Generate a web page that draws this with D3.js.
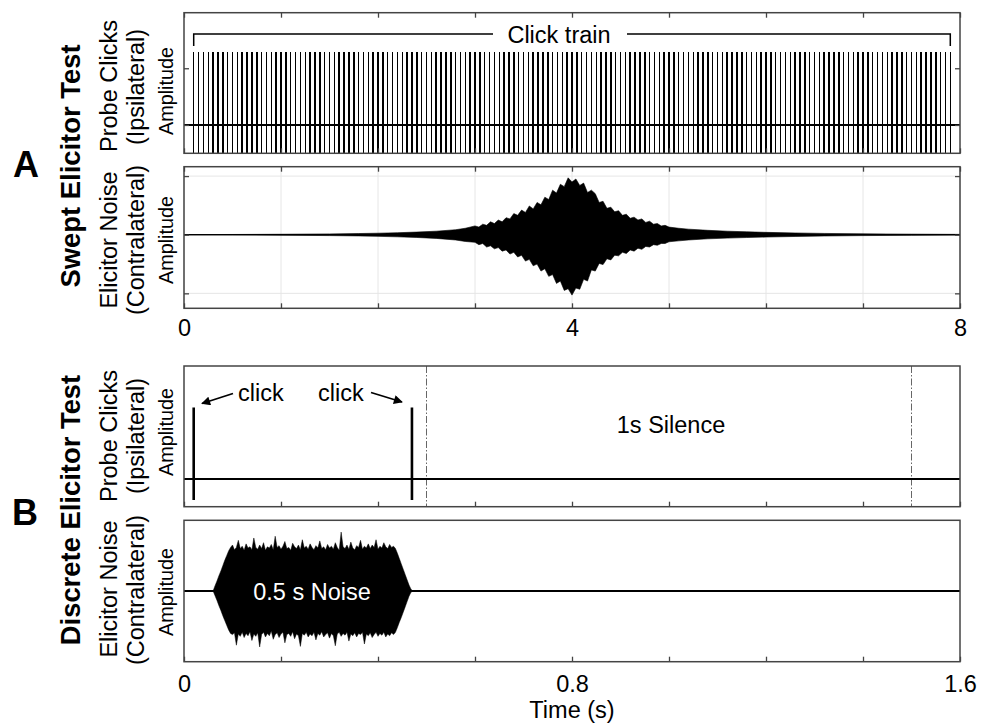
<!DOCTYPE html>
<html><head><meta charset="utf-8">
<script src="https://cdn.jsdelivr.net/npm/d3@7"></script>
<style>
body{margin:0;background:#fff}
svg{display:block}
text{font-family:"Liberation Sans",Arial,Helvetica,sans-serif;fill:#000}
</style>
</head><body>
<svg id="chart" width="984" height="724"></svg>
<script>
// ---------- DATA ----------
const sweptXTicks = [0,1,2,3,4,5,6,7,8];
const sweptXLabels = [0,4,8];
const discreteXTicks = [0,0.2,0.4,0.6,0.8,1.0,1.2,1.4,1.6];
const discreteXLabels = [0,0.8,1.6];

// Panel A: probe click train (ipsilateral)
const clickTimes = [
0.1,0.15,0.2,0.25,0.3,0.35,0.4,0.45,0.5,0.55,0.6,0.65,0.7,0.75,0.8,0.85,0.9,0.95,
1,1.05,1.1,1.15,1.2,1.25,1.3,1.35,1.4,1.45,1.5,1.55,1.6,1.65,1.7,1.75,1.8,1.85,1.9,1.95,
2,2.05,2.1,2.15,2.2,2.25,2.3,2.35,2.4,2.45,2.5,2.55,2.6,2.65,2.7,2.75,2.8,2.85,2.9,2.95,
3,3.05,3.1,3.15,3.2,3.25,3.3,3.35,3.4,3.45,3.5,3.55,3.6,3.65,3.7,3.75,3.8,3.85,3.9,3.95,
4,4.05,4.1,4.15,4.2,4.25,4.3,4.35,4.4,4.45,4.5,4.55,4.6,4.65,4.7,4.75,4.8,4.85,4.9,4.95,
5,5.05,5.1,5.15,5.2,5.25,5.3,5.35,5.4,5.45,5.5,5.55,5.6,5.65,5.7,5.75,5.8,5.85,5.9,5.95,
6,6.05,6.1,6.15,6.2,6.25,6.3,6.35,6.4,6.45,6.5,6.55,6.6,6.65,6.7,6.75,6.8,6.85,6.9,6.95,
7,7.05,7.1,7.15,7.2,7.25,7.3,7.35,7.4,7.45,7.5,7.55,7.6,7.65,7.7,7.75,7.8,7.85,7.9];
const clickPeak = 1.29;
const clickTrough = -1.3;

// Panel A: swept elicitor noise envelope (contralateral)
const sweptNoiseT = [0,0.5,1,1.5,1.8,2,2.2,2.4,2.6,2.8,2.9,
3,3.04,3.08,3.12,3.16,3.2,3.24,3.28,3.32,3.36,3.4,3.44,3.48,3.52,3.56,3.6,3.64,3.68,3.72,3.76,
3.8,3.84,3.88,3.92,3.96,4,4.04,4.08,4.12,4.16,4.2,4.24,4.28,4.32,4.36,4.4,4.44,4.48,4.52,4.56,
4.6,4.64,4.68,4.72,4.76,4.8,4.84,4.88,4.92,4.96,5,
5.1,5.2,5.4,5.6,5.8,6,6.3,6.6,7,7.5,8];
const sweptNoiseUp = [0.002,0.004,0.008,0.014,0.02,0.026,0.034,0.045,0.06,0.085,0.11,
0.15,0.13,0.18,0.16,0.22,0.19,0.25,0.22,0.29,0.27,0.36,0.33,0.42,0.38,0.49,0.44,0.55,0.51,0.64,0.60,
0.76,0.71,0.86,0.82,0.97,0.90,0.95,0.84,0.88,0.72,0.76,0.70,0.55,0.57,0.45,0.47,0.39,0.41,0.33,0.35,
0.28,0.30,0.25,0.27,0.21,0.23,0.18,0.19,0.15,0.16,0.13,
0.11,0.095,0.075,0.06,0.05,0.04,0.03,0.022,0.015,0.01,0.006];
const sweptNoiseLo = [0.002,0.004,0.008,0.015,0.021,0.028,0.036,0.047,0.063,0.09,0.115,
0.13,0.17,0.15,0.21,0.19,0.24,0.22,0.28,0.26,0.33,0.30,0.38,0.35,0.45,0.42,0.53,0.50,0.62,0.58,0.71,
0.68,0.83,0.79,0.95,0.92,1.03,0.91,0.93,0.76,0.79,0.60,0.62,0.49,0.51,0.41,0.43,0.35,0.36,0.30,0.32,
0.26,0.28,0.23,0.25,0.20,0.21,0.17,0.18,0.15,0.15,0.12,
0.105,0.09,0.07,0.058,0.048,0.04,0.03,0.022,0.015,0.01,0.006];

// Panel B: discrete clicks and silence markers
const discreteClickTimes = [0.02,0.47];
const discreteClickPeak = 1.02;
const discreteClickTrough = -0.3;
const silenceMarks = [0.5,1.5];

// Panel B: discrete 0.5 s elicitor noise envelope
const discreteNoiseT = [
0.060,0.064,0.068,0.072,0.076,0.080,0.084,0.088,0.092,0.096,
0.100,0.104,0.108,0.112,0.116,0.120,0.124,0.128,0.132,0.136,
0.140,0.144,0.148,0.152,0.156,0.160,0.164,0.168,0.172,0.176,
0.180,0.184,0.188,0.192,0.196,0.200,0.204,0.208,0.212,0.216,
0.220,0.224,0.228,0.232,0.236,0.240,0.244,0.248,0.252,0.256,
0.260,0.264,0.268,0.272,0.276,0.280,0.284,0.288,0.292,0.296,
0.300,0.304,0.308,0.312,0.316,0.320,0.324,0.328,0.332,0.336,
0.340,0.344,0.348,0.352,0.356,0.360,0.364,0.368,0.372,0.376,
0.380,0.384,0.388,0.392,0.396,0.400,0.404,0.408,0.412,0.416,
0.420,0.424,0.428,0.432,0.436,0.440,0.444,0.448,0.452,0.456,
0.460,0.464,0.468,0.472];
const discreteNoiseUp = [
0,0.09,0.17,0.26,0.34,0.43,0.52,0.60,0.68,0.74,
0.78,0.70,0.74,0.86,0.72,0.76,0.69,0.80,0.73,0.75,
0.70,0.90,0.74,0.71,0.78,0.72,0.82,0.69,0.75,0.73,
0.79,0.70,0.93,0.74,0.77,0.71,0.76,0.84,0.72,0.74,
0.69,0.81,0.75,0.72,0.78,0.70,0.87,0.73,0.76,0.71,
0.80,0.74,0.70,0.77,0.73,0.85,0.72,0.75,0.70,0.79,
0.73,0.76,0.71,0.82,0.74,0.69,1.00,0.75,0.72,0.78,
0.71,0.83,0.73,0.70,0.77,0.74,0.86,0.71,0.76,0.73,
0.80,0.72,0.78,0.74,0.87,0.71,0.76,0.73,0.82,0.75,
0.72,0.79,0.74,0.76,0.72,0.64,0.55,0.46,0.37,0.28,
0.19,0.10,0.03,0];
const discreteNoiseLo = [
0,0.08,0.16,0.25,0.33,0.42,0.50,0.58,0.66,0.72,
0.74,0.71,0.92,0.73,0.77,0.70,0.79,0.72,0.76,0.69,
0.84,0.73,0.77,0.71,0.95,0.74,0.70,0.78,0.72,0.76,
0.68,0.82,0.74,0.71,0.79,0.73,0.70,0.88,0.74,0.72,
0.77,0.69,0.81,0.73,0.76,0.94,0.72,0.75,0.70,0.78,
0.73,0.76,0.70,0.83,0.72,0.75,0.69,0.78,0.74,0.71,
0.80,0.72,0.76,0.93,0.73,0.70,0.77,0.72,0.75,0.70,
0.85,0.73,0.76,0.71,0.78,0.72,0.74,0.70,0.90,0.73,
0.76,0.71,0.79,0.74,0.70,0.77,0.72,0.75,0.70,0.78,
0.73,0.76,0.71,0.74,0.70,0.62,0.53,0.45,0.36,0.27,
0.18,0.09,0.02,0];

// ---------- LAYOUT ----------
const svg = d3.select("#chart");
const L = 184, R = 960;
const AX = "#444";
const FS = 23.5;

const panels = {
  p1: {top: 12.7, bottom: 153.3, xd: [0,8],   yd: [-0.5,1.98],  yt: [0,1]},
  p2: {top: 166.7, bottom: 308.3, xd: [0,8],  yd: [-1.255,1.16], yt: [-1,0,1]},
  p3: {top: 366, bottom: 506.7, xd: [0,1.6],  yd: [-0.396,1.614], yt: []},
  p4: {top: 520.3, bottom: 661.7, xd: [0,1.6], yd: [-1.2,1.2],   yt: []}
};
for (const k in panels) {
  const p = panels[k];
  p.x = d3.scaleLinear().domain(p.xd).range([L, R]);
  p.y = d3.scaleLinear().domain(p.yd).range([p.bottom, p.top]);
}

const defs = svg.append("defs");
for (const k in panels) {
  const p = panels[k];
  defs.append("clipPath").attr("id", "clip-" + k)
    .append("rect").attr("x", L).attr("y", p.top).attr("width", R - L).attr("height", p.bottom - p.top);
}
defs.append("marker").attr("id","arrow").attr("viewBox","0 0 10 10").attr("refX",9).attr("refY",5)
  .attr("markerWidth",11).attr("markerHeight",9).attr("markerUnits","userSpaceOnUse").attr("orient","auto")
  .append("path").attr("d","M0,0 L10,5 L0,10 z").attr("fill","#000");

function frame(p, opts) {
  const g = svg.append("g");
  if (opts.grid) {
    g.selectAll(".gx").data(opts.xticks).join("line")
      .attr("x1", d => p.x(d)).attr("x2", d => p.x(d))
      .attr("y1", p.top).attr("y2", p.bottom)
      .attr("stroke", "#e6e6e6").attr("stroke-width", 1);
    g.selectAll(".gy").data(p.yt).join("line")
      .attr("x1", L).attr("x2", R)
      .attr("y1", d => p.y(d)).attr("y2", d => p.y(d))
      .attr("stroke", "#e6e6e6").attr("stroke-width", 1);
  }
  return g;
}

function axes(p, opts) {
  const g = svg.append("g");
  const fmt = d => opts.labels.includes(d) ? d3.format("~g")(d) : "";
  g.append("g").attr("transform", `translate(0,${p.bottom})`)
    .call(d3.axisBottom(p.x).tickValues(opts.xticks).tickSizeInner(-5).tickSizeOuter(0)
      .tickPadding(opts.pad || 0).tickFormat(opts.labels.length ? fmt : ""));
  if (opts.topTicks) {
    g.append("g").attr("transform", `translate(0,${p.top})`)
      .call(d3.axisTop(p.x).tickValues(opts.xticks).tickSizeInner(-5).tickSizeOuter(0).tickFormat(""));
  }
  if (p.yt.length) {
    g.append("g").attr("transform", `translate(${L},0)`)
      .call(d3.axisLeft(p.y).tickValues(p.yt).tickSizeInner(-5).tickSizeOuter(0).tickFormat(""));
    g.append("g").attr("transform", `translate(${R},0)`)
      .call(d3.axisRight(p.y).tickValues(p.yt).tickSizeInner(-5).tickSizeOuter(0).tickFormat(""));
  }
  g.selectAll(".domain").remove();
  g.selectAll(".tick line").attr("stroke", AX).attr("stroke-width", 1.3);
  g.selectAll(".tick text").attr("font-size", FS).attr("fill", "#000")
    .attr("font-family", '"Liberation Sans",Arial,Helvetica,sans-serif');
  g.append("rect").attr("x", L).attr("y", p.top).attr("width", R - L).attr("height", p.bottom - p.top)
    .attr("fill", "none").attr("stroke", AX).attr("stroke-width", 1.5);
}

// ---------- PANEL 1: click train ----------
{
  const p = panels.p1;
  frame(p, {xticks: sweptXTicks});
  const g = svg.append("g").attr("clip-path", "url(#clip-p1)");
  g.selectAll("line.click").data(clickTimes).join("line")
    .attr("x1", d => p.x(d)).attr("x2", d => p.x(d))
    .attr("y1", p.y(clickPeak)).attr("y2", p.y(clickTrough))
    .attr("stroke", "#000").attr("stroke-width", 1.5).attr("shape-rendering", "crispEdges");
  g.append("line").attr("x1", L).attr("x2", R).attr("y1", p.y(0)).attr("y2", p.y(0))
    .attr("stroke", "#000").attr("stroke-width", 2);
  axes(p, {xticks: sweptXTicks, labels: [], topTicks: true});

  const x0 = p.x(clickTimes[0]), x1 = p.x(clickTimes[clickTimes.length - 1]);
  const by = 34, bEnd = 46;
  const ann = svg.append("g").attr("fill", "none").attr("stroke", "#000").attr("stroke-width", 1.5);
  ann.append("path").attr("d", `M${x0},${bEnd} V${by} H${493}`);
  ann.append("path").attr("d", `M${627},${by} H${x1} V${bEnd}`);
  svg.append("text").attr("x", 559).attr("y", 43).attr("text-anchor", "middle")
    .attr("font-size", FS).text("Click train");
}

// ---------- PANEL 2: swept noise ----------
{
  const p = panels.p2;
  frame(p, {grid: true, xticks: sweptXTicks});
  const pts = sweptNoiseT.map((t, i) => ({t, u: sweptNoiseUp[i], l: sweptNoiseLo[i]}));
  const area = d3.area().x(d => p.x(d.t)).y0(d => p.y(-d.l)).y1(d => p.y(d.u)).curve(d3.curveLinear);
  const g = svg.append("g").attr("clip-path", "url(#clip-p2)");
  g.append("path").datum(pts).attr("d", area).attr("fill", "#000")
    .attr("stroke", "#000").attr("stroke-width", 0.6);
  g.append("line").attr("x1", L).attr("x2", R).attr("y1", p.y(0)).attr("y2", p.y(0))
    .attr("stroke", "#000").attr("stroke-width", 1.3);
  axes(p, {xticks: sweptXTicks, labels: sweptXLabels, topTicks: true, pad: 11.3});
}

// ---------- PANEL 3: discrete clicks ----------
{
  const p = panels.p3;
  const g = svg.append("g").attr("clip-path", "url(#clip-p3)");
  g.selectAll("line.sil").data(silenceMarks).join("line")
    .attr("x1", d => p.x(d)).attr("x2", d => p.x(d))
    .attr("y1", p.top).attr("y2", p.bottom)
    .attr("stroke", "#666").attr("stroke-width", 1).attr("stroke-dasharray", "7,2,1.5,2");
  g.append("line").attr("x1", L).attr("x2", R).attr("y1", p.y(0)).attr("y2", p.y(0))
    .attr("stroke", "#000").attr("stroke-width", 2.2);
  g.selectAll("line.dclick").data(discreteClickTimes).join("line")
    .attr("x1", d => p.x(d)).attr("x2", d => p.x(d))
    .attr("y1", p.y(discreteClickPeak)).attr("y2", p.y(discreteClickTrough))
    .attr("stroke", "#000").attr("stroke-width", 2.6);
  axes(p, {xticks: discreteXTicks, labels: []});

  svg.append("text").attr("x", 238).attr("y", 401).attr("font-size", FS).text("click");
  svg.append("text").attr("x", 318).attr("y", 401).attr("font-size", FS).text("click");
  svg.append("line").attr("x1", 233).attr("y1", 393.5).attr("x2", 202).attr("y2", 403.5)
    .attr("stroke", "#000").attr("stroke-width", 1.8).attr("marker-end", "url(#arrow)");
  svg.append("line").attr("x1", 371).attr("y1", 392.5).attr("x2", 402).attr("y2", 402)
    .attr("stroke", "#000").attr("stroke-width", 1.8).attr("marker-end", "url(#arrow)");
  svg.append("text").attr("x", p.x(1.0) + 2).attr("y", 433).attr("text-anchor", "middle")
    .attr("font-size", FS).text("1s Silence");
}

// ---------- PANEL 4: discrete noise ----------
{
  const p = panels.p4;
  const pts = discreteNoiseT.map((t, i) => ({t, u: discreteNoiseUp[i], l: discreteNoiseLo[i]}));
  const area = d3.area().x(d => p.x(d.t)).y0(d => p.y(-d.l)).y1(d => p.y(d.u)).curve(d3.curveLinear);
  const g = svg.append("g").attr("clip-path", "url(#clip-p4)");
  g.append("line").attr("x1", L).attr("x2", R).attr("y1", p.y(0)).attr("y2", p.y(0))
    .attr("stroke", "#000").attr("stroke-width", 2.2);
  g.append("path").datum(pts).attr("d", area).attr("fill", "#000")
    .attr("stroke", "#000").attr("stroke-width", 0.5);
  axes(p, {xticks: discreteXTicks, labels: discreteXLabels, pad: 13.3});
  svg.append("text").attr("x", 312).attr("y", 600).attr("text-anchor", "middle")
    .attr("font-size", FS).style("fill", "#fff").text("0.5 s Noise");
  svg.append("text").attr("x", (L + R) / 2).attr("y", 718).attr("text-anchor", "middle")
    .attr("font-size", FS).text("Time (s)");
}

// ---------- SIDE LABELS ----------
function vtext(x, y, txt, size, bold) {
  svg.append("text").attr("transform", `translate(${x},${y}) rotate(-90)`)
    .attr("text-anchor", "middle").attr("font-size", size)
    .attr("font-weight", bold ? "bold" : "normal").text(txt);
}
svg.append("text").attr("x", 26).attr("y", 177).attr("text-anchor", "middle")
  .attr("font-size", 36).attr("font-weight", "bold").text("A");
svg.append("text").attr("x", 25).attr("y", 525).attr("text-anchor", "middle")
  .attr("font-size", 36).attr("font-weight", "bold").text("B");

vtext(80, 166, "Swept Elicitor Test", 27.4, true);
vtext(117, 86, "Probe Clicks", FS);
vtext(144, 87, "(Ipsilateral)", FS);
vtext(173, 91, "Amplitude", 19.8);
vtext(117, 240, "Elicitor Noise", FS);
vtext(144, 240, "(Contralateral)", FS);
vtext(173, 240, "Amplitude", 19.8);

vtext(80, 510, "Discrete Elicitor Test", 27.4, true);
vtext(117, 436, "Probe Clicks", FS);
vtext(144, 436, "(Ipsilateral)", FS);
vtext(173, 432, "Amplitude", 19.8);
vtext(117, 589, "Elicitor Noise", FS);
vtext(144, 590, "(Contralateral)", FS);
vtext(173, 592, "Amplitude", 19.8);
</script>
</body></html>
